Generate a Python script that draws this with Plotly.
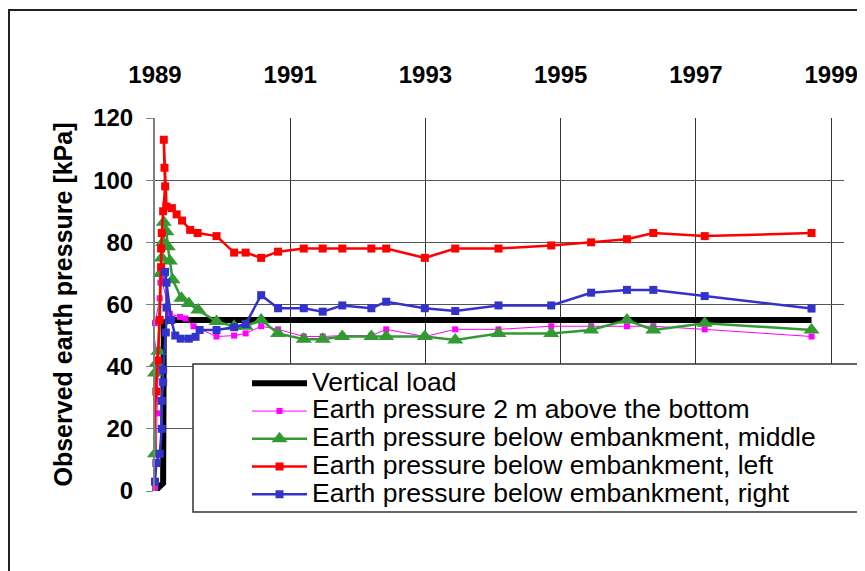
import plotly.graph_objects as go

# ---------------- data (decimal years, kPa) ----------------
load_x = [1989.0, 1989.12, 1989.13, 1989.2, 1998.71]
load_y = [0, 2.5, 54, 55, 55]

mag_x = [1989.0, 1989.02, 1989.03, 1989.05, 1988.98, 1989.0, 1989.07, 1989.08, 1989.1, 1989.22,
         1989.37, 1989.45, 1989.57, 1989.91, 1990.17, 1990.34, 1990.57, 1990.82, 1991.2, 1991.48,
         1991.77, 1992.2, 1992.42, 1992.99, 1993.44, 1994.08, 1994.86, 1995.45, 1995.98, 1996.37,
         1997.13, 1998.71]
mag_y = [1, 12, 25, 40, 51, 54, 62, 67, 68, 57,
         56, 55.5, 53, 49.7, 50, 50.7, 53, 52, 49.7, 49.7,
         50, 50, 52, 49.7, 52, 52, 53, 53, 53, 53,
         52, 49.7]

mid_x = [1989.0, 1989.0, 1989.02, 1989.05, 1989.08, 1989.1, 1989.12, 1989.13, 1989.17, 1989.19,
         1989.22, 1989.26, 1989.39, 1989.5, 1989.64, 1989.91, 1990.17, 1990.34, 1990.57, 1990.82,
         1991.2, 1991.48, 1991.77, 1992.2, 1992.42, 1992.99, 1993.44, 1994.08, 1994.86, 1995.45,
         1995.98, 1996.37, 1997.13, 1998.71]
mid_y = [12, 38, 41, 45, 70, 75, 80, 86.5, 83.4, 78.6,
         74, 68, 62, 60.3, 58.2, 54.5, 53, 53, 55, 50.7,
         48.8, 48.8, 49.7, 49.7, 49.7, 49.7, 48.6, 50.7, 50.7, 51.8,
         55, 51.8, 54, 51.8]

left_x = [1988.98, 1989.02, 1989.04, 1989.07, 1989.09, 1989.09, 1989.1, 1989.12, 1989.15, 1989.14,
          1989.13, 1989.17, 1989.25, 1989.32, 1989.4, 1989.52, 1989.63, 1989.91, 1990.17, 1990.34,
          1990.57, 1990.82, 1991.2, 1991.48, 1991.77, 1992.2, 1992.42, 1992.99, 1993.44, 1994.08,
          1994.86, 1995.45, 1995.98, 1996.37, 1997.13, 1998.71]
left_y = [17, 32, 42, 55, 72, 78, 83, 90, 98, 104,
          113, 91.5, 91, 89, 87, 84, 83, 82, 76.7, 76.7,
          75, 77, 78, 78, 78, 78, 78, 75, 78, 78,
          79, 80, 81, 83, 82, 83]

right_x = [1989.0, 1989.02, 1989.07, 1989.1, 1989.1, 1989.12, 1989.12, 1989.16, 1989.17, 1989.17,
           1989.15, 1989.24, 1989.3, 1989.38, 1989.5, 1989.6, 1989.66, 1989.91, 1990.17, 1990.34,
           1990.57, 1990.82, 1991.2, 1991.48, 1991.77, 1992.2, 1992.42, 1992.99, 1993.44, 1994.08,
           1994.86, 1995.45, 1995.98, 1996.37, 1997.13, 1998.71]
right_y = [3, 9, 12, 20, 29, 35, 39, 51, 59, 67,
           70.5, 55, 50, 49, 49, 49.6, 51.8, 51.8, 52.7, 53.7,
           63, 58.8, 58.8, 57.7, 59.7, 58.8, 60.9, 58.8, 57.9, 59.7,
           59.7, 63.8, 64.7, 64.7, 62.7, 58.7]

names = ["Vertical load",
         "Earth pressure 2 m above the bottom",
         "Earth pressure below embankment, middle",
         "Earth pressure below embankment, left",
         "Earth pressure below embankment, right"]

x_ticks = [1989, 1991, 1993, 1995, 1997, 1999]
y_ticks = [0, 20, 40, 60, 80, 100, 120]

# ---------------- figure ----------------
OFF = 8                      # page body margin offset
W, H = 865 - OFF, 571 - OFF
L, R, T, B = 155 - OFF, 21, 118 - OFF, 80
PW, PH = W - L - R, H - T - B

def px(xs):                  # screen x -> paper
    return (xs - OFF - L) / PW

def py(ys):                  # screen y -> paper
    return (H - B - (ys - OFF)) / PH

FONT = "Arial, Liberation Sans, sans-serif"

def lname(s):
    return '<span style="font-size:26.5px">' + s + '</span>'

fig = go.Figure()
fig.add_trace(go.Scatter(x=load_x, y=load_y, name=lname(names[0]), mode="lines",
                         line=dict(color="black", width=6), cliponaxis=False))
fig.add_trace(go.Scatter(x=mag_x, y=mag_y, name=lname(names[1]), mode="lines+markers",
                         line=dict(color="#FF00FF", width=1),
                         marker=dict(symbol="square", size=6, color="#FF00FF"), cliponaxis=False))
fig.add_trace(go.Scatter(x=mid_x, y=mid_y, name=lname(names[2]), mode="lines+markers",
                         line=dict(color="#339933", width=2.5),
                         marker=dict(symbol="triangle-up", size=14, color="#339933"), cliponaxis=False))
fig.add_trace(go.Scatter(x=left_x, y=left_y, name=lname(names[3]), mode="lines+markers",
                         line=dict(color="#FF0000", width=2.5),
                         marker=dict(symbol="square", size=8, color="#FF0000"), cliponaxis=False))
fig.add_trace(go.Scatter(x=right_x, y=right_y, name=lname(names[4]), mode="lines+markers",
                         line=dict(color="#3333CC", width=2.5),
                         marker=dict(symbol="square", size=8, color="#3333CC"), cliponaxis=False))

shapes = [
    # outer chart frame
    dict(type="rect", xref="paper", yref="paper", x0=px(9), x1=px(900), y0=py(620), y1=py(10),
         line=dict(color="#222222", width=2), fillcolor="rgba(0,0,0,0)", layer="below"),
    # legend box
    dict(type="rect", xref="paper", yref="paper", x0=px(193), x1=px(900), y0=py(512), y1=py(364),
         line=dict(color="#333333", width=1.5), fillcolor="white", layer="above"),
]

fig.update_layout(
    width=W, height=H, autosize=False,
    margin=dict(l=L, r=R, t=T, b=B, pad=0, autoexpand=False),
    paper_bgcolor="white", plot_bgcolor="white",
    font=dict(family=FONT, color="black"),
    showlegend=True,
    legend=dict(x=px(247), y=py(364.5), xanchor="left", yanchor="top",
                bgcolor="rgba(0,0,0,0)", borderwidth=0,
                font=dict(size=19, family=FONT, color="black"),
                itemwidth=55, tracegroupgap=0),
    shapes=shapes,
    xaxis=dict(range=[1989, 1999.19], side="top", tickmode="array", tickvals=x_ticks,
               ticktext=[f"<b>{v}</b>" for v in x_ticks], automargin=False,
               tickfont=dict(size=24, family=FONT, color="black"),
               showgrid=True, gridcolor="#333333", gridwidth=1,
               zeroline=False, showline=False, ticks="", ticklabelstandoff=29),
    yaxis=dict(range=[0, 120], tickmode="array", tickvals=y_ticks,
               ticktext=[f"<b>{v}</b>" for v in y_ticks], automargin=False,
               tickfont=dict(size=24, family=FONT, color="black"),
               showgrid=True, gridcolor="#555555", gridwidth=1,
               zeroline=False, showline=True, linecolor="#808080", linewidth=2,
               ticks="outside", ticklen=7, tickcolor="#808080", ticklabelstandoff=8,
               title=dict(text="<b>Observed earth pressure [kPa]</b>",
                          font=dict(size=25, family=FONT, color="black"), standoff=13)),
)

fig.write_html("out.html")
